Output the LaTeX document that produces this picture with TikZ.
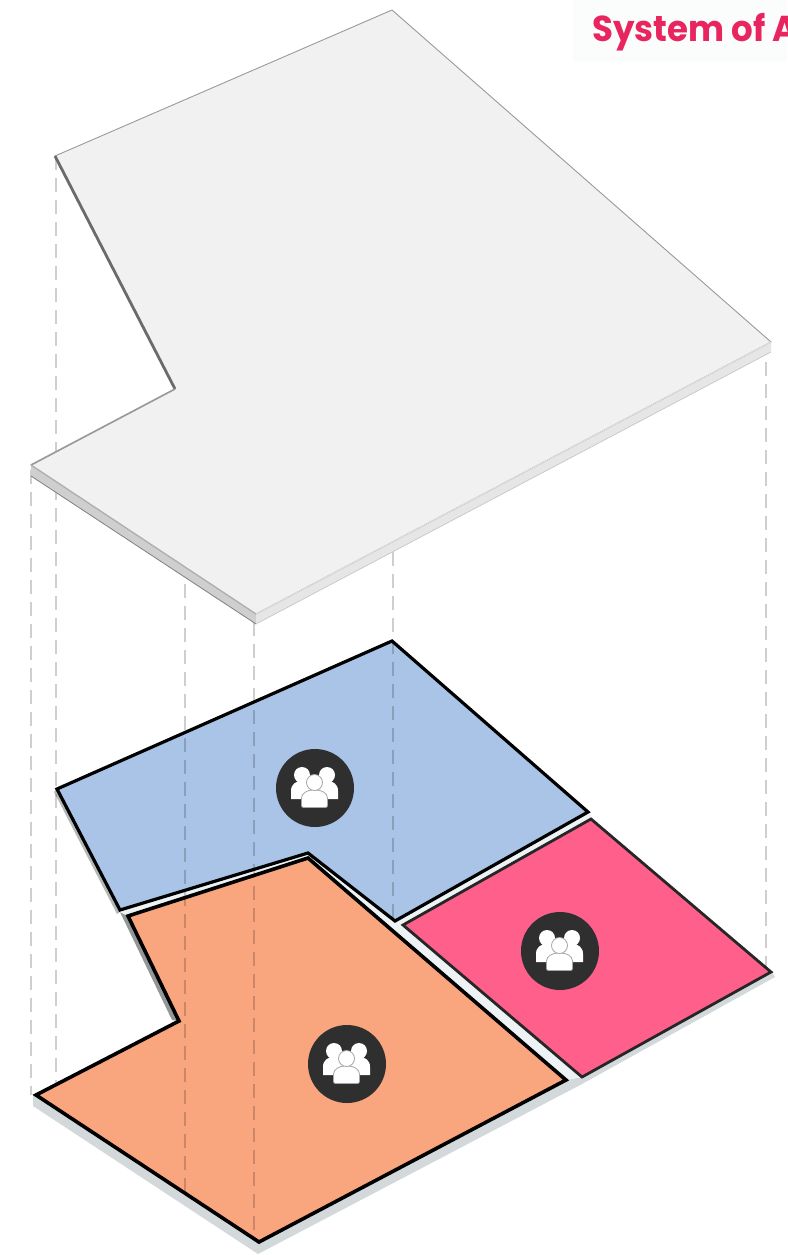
\documentclass[tikz,border=0pt]{standalone}
\usepackage{fontspec}
\setmainfont{Poppins}
\definecolor{planblue}{HTML}{A9C4E6}
\definecolor{planpink}{HTML}{FF5F8B}
\definecolor{planorange}{HTML}{F9A67F}
\definecolor{plandark}{HTML}{2F2F2F}
\definecolor{slabtop}{HTML}{F1F1F1}
\definecolor{slabsideL}{HTML}{CFCFCF}
\definecolor{slabsideR}{HTML}{E6E6E6}
\definecolor{slabedge}{HTML}{9A9A9A}
\definecolor{basetop}{HTML}{EDF3F5}
\definecolor{baseside}{HTML}{D3D8DA}
\definecolor{titlepink}{HTML}{E9255F}
\definecolor{titleback}{HTML}{FBFDFD}
\definecolor{guidegray}{HTML}{CFCFCF}
\tikzset{
  plot/.style={draw=black,line width=3.2pt,line join=miter},
  guide/.style={draw=guidegray,blend mode=multiply,line width=2pt,dash pattern=on 14pt off 8pt},
  pics/group/.style={code={
    \fill[plandark] (0,0) circle (39);
    \foreach \px in {-13,12}{
      \fill[white,shift={(\px,0)}] (0,-13) circle (8)
        (-11,11) -- (-11,3) .. controls (-11,-4) and (-6,-7) .. (0,-7) .. controls (6,-7) and (11,-4) .. (11,3) -- (11,11) -- cycle;
    }
    \path[fill=white,draw=black!35,line width=.8pt,rounded corners=2pt]
      (-13.5,19.5) -- (-13.5,12) .. controls (-13.5,5) and (-7,2) .. (-.5,2) .. controls (6,2) and (12.5,5) .. (12.5,12) -- (12.5,19.5) -- cycle;
    \path[fill=white,draw=black!35,line width=.8pt] (-.5,-5.5) circle (8);
  }}
}
\begin{document}
\begin{tikzpicture}[x=1pt,y=-1pt]
\useasboundingbox (0,0) rectangle (787,1255);
\fill[white] (0,0) rectangle (787,1255);
% ---- named points: upper slab
\coordinate (ta) at (392,10);
\coordinate (tb) at (771,342);
\coordinate (tc) at (256,614);
\coordinate (td) at (31,465);
\coordinate (te) at (175,389);
\coordinate (tf) at (55,156);
% ---- lower slab
\coordinate (ba) at (33,1095);
\coordinate (bb) at (33,1106);
\coordinate (bc) at (258,1254);
\coordinate (bd) at (582,1084);
\coordinate (be) at (775,977);
\coordinate (bf) at (772,972);
% ---- footprint / plots
\coordinate (fa) at (56,789);
\coordinate (fb) at (392,641);
\coordinate (fc) at (590,813);
\coordinate (fd) at (582,1077);
\coordinate (fe) at (566,1080);
\coordinate (ff) at (259,1242);
\coordinate (fg) at (179,1021);
\coordinate (fh) at (128,916);
\coordinate (fi) at (120,912);
% side faces of the lower slab
\fill[baseside] (ba) -- (bb) -- (bc) -- (bd) -- (be) -- (bf) -- (fd) -- (fe) -- (ff) -- cycle;
\fill[baseside!70!black] (fi) -- (172,1020) -- (fg) -- (fh) -- cycle;
\fill[baseside!85!black] (54,792) -- (117,914) -- (fi) -- (fa) -- cycle;
% top surface of the lower slab, seen between the plots
\fill[basetop] (fa) -- (fb) -- (fc) -- (591,819) -- (bf) -- (fd) -- (fe) -- (ff) -- (ba) -- (fg) -- (fh) -- (fi) -- cycle;
% plots
\path[plot,fill=planblue] (57,789) -- (fb) -- (588,812) -- (395,921) -- (308,853) -- (120,910) -- cycle;
\path[plot,fill=planpink,draw=black!85,line width=2.8pt] (403,925) -- (591,819) -- (771,972) -- (582,1077) -- cycle;
\path[plot,fill=planorange,line width=3.6pt] (36,1095) -- (fg) -- (fh) -- (308,858) -- (fe) -- (ff) -- cycle;
% ---- guide lines
\foreach \gx/\gt/\gb/\gn in {31/470/1095/a,56/156/1084/b,185/540/1192/c,254/600/1241/d,393/530/921/e,766/340/968/f}{
  \coordinate (g\gn t) at (\gx,\gt);
  \coordinate (g\gn b) at (\gx,\gb);
  \draw[guide] (g\gn t) -- (g\gn b);
}
% ---- upper slab
\fill[slabsideL] (td) -- (31,476) -- (256,624) -- (tc) -- cycle;
\fill[slabsideR] (tc) -- (256,624) -- (771,352) -- (tb) -- cycle;
\draw[black!50,line width=.8pt] (31,476) -- (256,624);
\draw[black!22,line width=.7pt] (256,624) -- (771,352);
\path[fill=slabtop,draw=slabedge,line width=.9pt,line join=round] (ta) -- (tb) -- (tc) -- (td) -- (te) -- (tf) -- cycle;
\draw[black!58,line width=2.8pt] (tf) -- (te);
\draw[slabedge,line width=1.6pt] (te) -- (td);
\draw[black!30,line width=1.2pt] (td) -- (tc);
\draw[black!12,line width=1pt] (tc) -- (tb);
% ---- group icons
\pic at (315,788) {group};
\pic at (560,951) {group};
\pic at (347,1064) {group};
% ---- title, cut off by the picture edge
\fill[titleback] (573,0) rectangle (787,62);
\begin{scope}
\clip (573,0) rectangle (787,62);
\node[anchor=base west,inner sep=0pt,text=titlepink,transform shape,xscale=.945,font=\fontsize{36}{36}\selectfont\bfseries] (title) at (592,42) {System of A};
\end{scope}
\end{tikzpicture}
\end{document}
